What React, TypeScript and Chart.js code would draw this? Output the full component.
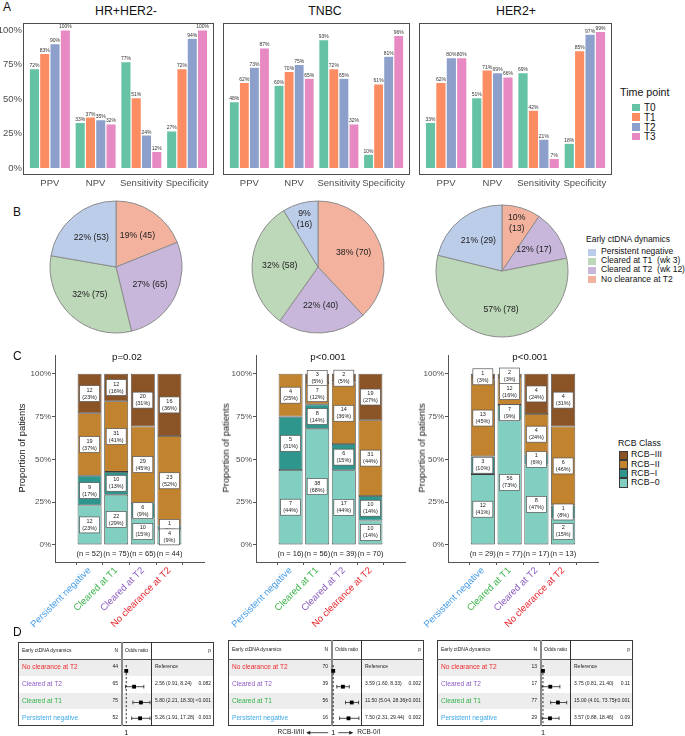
import React, { useEffect, useRef } from 'react';
import { Chart, registerables } from 'chart.js';

Chart.register(...registerables);
const FONT = '"Liberation Sans", Arial, Helvetica, sans-serif';
Chart.defaults.font.family = FONT;
Chart.defaults.color = '#4D4D4D';

// ---------------- Panel A data ----------------
const metrics = ['PPV', 'NPV', 'Sensitivity', 'Specificity'];
const timePoints = ['T0', 'T1', 'T2', 'T3'];
const timeColors = ['#66C2A5', '#FC8D62', '#8DA0CB', '#E78AC3'];
const subtypes = ['HR+HER2-', 'TNBC', 'HER2+'];
const hrT0 = [72, 33, 77, 27];
const hrT1 = [83, 37, 51, 72];
const hrT2 = [90, 35, 24, 94];
const hrT3 = [100, 32, 12, 100];
const tnT0 = [48, 60, 93, 10];
const tnT1 = [62, 70, 72, 61];
const tnT2 = [73, 75, 65, 81];
const tnT3 = [87, 65, 32, 96];
const h2T0 = [33, 51, 69, 18];
const h2T1 = [62, 71, 42, 85];
const h2T2 = [80, 69, 21, 97];
const h2T3 = [80, 66, 7, 99];

// ---------------- Panel B data ----------------
const pieLegend = ['Persistent negative', 'Cleared at T1  (wk 3)', 'Cleared at T2  (wk 12)', 'No clearance at T2'];
const pieLegendColors = ['#BCCDEA', '#BDD8B8', '#C9B7DB', '#F2B29D'];
// slice order clockwise from 12 o'clock: No clearance, Cleared T2, Cleared T1, Persistent negative
const pieColors = ['#F2B29D', '#C9B7DB', '#BDD8B8', '#BCCDEA'];
const hrPie = [45, 65, 75, 53];
const hrPiePct = [19, 27, 32, 22];
const tnPie = [70, 40, 58, 16];
const tnPiePct = [38, 22, 32, 9];
const h2Pie = [13, 17, 78, 29];
const h2PiePct = [10, 12, 57, 21];

// ---------------- Panel C data ----------------
const groups = ['Persistent negative', 'Cleared at T1', 'Cleared at T2', 'No clearance at T2'];
const groupColors = ['#4A9FE8', '#3CB44A', '#8B5CC0', '#E8282E'];
const rcbClasses = ['RCB\u22120', 'RCB\u2212I', 'RCB\u2212II', 'RCB\u2212III'];
const rcbColors = ['#80CFC1', '#2E968C', '#C1832D', '#8B5426'];
const hrRcb0 = [12, 22, 10, 4];
const hrRcb1 = [9, 10, 6, 1];
const hrRcb2 = [19, 31, 29, 23];
const hrRcb3 = [12, 12, 20, 16];
const tnRcb0 = [7, 38, 17, 10];
const tnRcb1 = [5, 8, 6, 10];
const tnRcb2 = [4, 7, 14, 31];
const tnRcb3 = [0, 3, 2, 19];
const h2Rcb0 = [12, 56, 8, 2];
const h2Rcb1 = [3, 7, 1, 1];
const h2Rcb2 = [13, 12, 4, 6];
const h2Rcb3 = [1, 2, 4, 4];
const pValues = ['p=0.02', 'p<0.001', 'p<0.001'];

// ---------------- Panel D data ----------------
const forestRows = ['No clearance at T2', 'Cleared at T2', 'Cleared at T1', 'Persistent negative'];
const forestColors = ['#EF2B2E', '#8E5BC6', '#33B24B', '#3FA9E6'];
const hrN = [44, 65, 75, 52];
const hrOR = [1, 2.56, 5.8, 5.26];
const hrLo = [null, 0.91, 2.21, 1.91];
const hrHi = [null, 8.24, 18.3, 17.28];
const hrP = ['', '0.082', '<0.001', '0.003'];
const tnN = [70, 39, 56, 16];
const tnOR = [1, 3.59, 11.5, 7.5];
const tnLo = [null, 1.6, 5.04, 2.31];
const tnHi = [null, 8.33, 28.36, 29.44];
const tnP = ['', '0.002', '<0.001', '0.002'];
const h2N = [13, 17, 77, 29];
const h2OR = [1, 3.75, 15.0, 3.57];
const h2Lo = [null, 0.81, 4.01, 0.88];
const h2Hi = [null, 21.4, 73.75, 18.46];
const h2P = ['', '0.11', '<0.001', '0.09'];

// ---------------- helpers ----------------
function roundHalfEven(v: number) {
  const f = Math.floor(v);
  if (Math.abs(v - f - 0.5) < 1e-9) return f % 2 === 0 ? f : f + 1;
  return Math.round(v);
}

function ChartCanvas({ left, top, width, height, make }: any) {
  const ref = useRef<HTMLCanvasElement>(null);
  useEffect(() => {
    const chart = new Chart(ref.current as HTMLCanvasElement, make());
    return () => chart.destroy();
  }, []);
  return (
    <canvas
      ref={ref}
      width={width}
      height={height}
      style={{ position: 'absolute', left, top, width, height, zIndex: 2 }}
    />
  );
}

function Txt({ x, y, children, size, color = '#1a1a1a', align = 'left', rotate = 0 }: any) {
  const tx = align === 'left' ? '0' : align === 'right' ? '-100%' : '-50%';
  return (
    <div
      style={{
        position: 'absolute',
        left: x,
        top: y,
        fontSize: size,
        color,
        whiteSpace: 'pre',
        lineHeight: 1.1,
        transform: `translate(${tx}, -50%)` + (rotate ? ` rotate(${rotate}deg)` : ''),
        zIndex: 3,
      }}
    >
      {children}
    </div>
  );
}

// ---------------- Panel A ----------------
const barLabelPlugin = {
  id: 'barLabels',
  afterDatasetsDraw(chart: any) {
    const ctx = chart.ctx;
    ctx.save();
    ctx.font = `5px ${FONT}`;
    ctx.fillStyle = '#333';
    ctx.textAlign = 'center';
    ctx.textBaseline = 'bottom';
    chart.data.datasets.forEach((ds: any, di: number) => {
      chart.getDatasetMeta(di).data.forEach((bar: any, i: number) => {
        ctx.fillText(ds.data[i] + '%', bar.x, bar.y - 0.3);
      });
    });
    ctx.restore();
  },
};

function makeBarA(vals: number[][], showY: boolean, yWidth: number) {
  return () => ({
    type: 'bar',
    data: {
      labels: metrics,
      datasets: timePoints.map((t, i) => ({
        label: t,
        data: vals[i],
        backgroundColor: timeColors[i],
        borderColor: '#ffffff',
        borderWidth: 0.6,
        categoryPercentage: 0.9,
        barPercentage: 1,
      })),
    },
    options: {
      animation: false,
      responsive: false,
      events: [],
      layout: { padding: { left: 0, right: 4, top: 3, bottom: 0 } },
      plugins: { legend: { display: false }, tooltip: { enabled: false } },
      scales: {
        x: {
          grid: { display: false, drawTicks: false },
          border: { display: false },
          ticks: { color: '#4D4D4D', font: { size: 9.5 }, padding: 3, maxRotation: 0, minRotation: 0, autoSkip: false },
          afterFit: (s: any) => { s.height = 20; s.paddingLeft = 0; s.paddingRight = 0; },
        },
        y: {
          min: -5,
          max: 105,
          grid: { display: false, drawTicks: false },
          border: { display: false },
          ticks: { display: showY, color: '#4D4D4D', font: { size: 9.5 }, padding: 5, callback: (v: any) => v + '%' },
          afterBuildTicks: (s: any) => { s.ticks = [0, 25, 50, 75, 100].map((v) => ({ value: v })); },
          afterFit: (s: any) => { s.width = yWidth; s.paddingTop = 0; s.paddingBottom = 0; },
        },
      },
    },
    plugins: [barLabelPlugin],
  });
}

// ---------------- Panel B ----------------
function makePie(data: number[], pct: number[]) {
  const total = data.reduce((a, b) => a + b, 0);
  const labelPlugin = {
    id: 'pieLabels',
    afterDatasetsDraw(chart: any) {
      const ctx = chart.ctx;
      ctx.save();
      ctx.font = `8.7px ${FONT}`;
      ctx.fillStyle = '#222';
      ctx.textAlign = 'center';
      ctx.textBaseline = 'middle';
      chart.getDatasetMeta(0).data.forEach((arc: any, i: number) => {
        const mid = (arc.startAngle + arc.endAngle) / 2;
        const share = data[i] / total;
        const small = share < 0.11;
        const r = arc.outerRadius * (small ? 0.76 : 0.58);
        const px = arc.x + Math.cos(mid) * r;
        const py = arc.y + Math.sin(mid) * r;
        if (small) {
          ctx.fillText(`${pct[i]}%`, px, py - 5.5);
          ctx.fillText(`(${data[i]})`, px, py + 5.5);
        } else {
          ctx.fillText(`${pct[i]}% (${data[i]})`, px, py);
        }
      });
      ctx.restore();
    },
  };
  return () => ({
    type: 'pie',
    data: {
      labels: ['No clearance at T2', 'Cleared at T2', 'Cleared at T1', 'Persistent negative'],
      datasets: [{ data, backgroundColor: pieColors, borderColor: '#8C8C8C', borderWidth: 1, radius: 66 }],
    },
    options: {
      animation: false,
      responsive: false,
      events: [],
      plugins: { legend: { display: false }, tooltip: { enabled: false } },
    },
    plugins: [labelPlugin],
  });
}

// ---------------- Panel C ----------------
function makeStack(counts: number[][], yWidth: number, xHeight: number) {
  const totals = groups.map((_, g) => counts.reduce((s, c) => s + c[g], 0));
  const labelPlugin = {
    id: 'stackLabels',
    afterDatasetsDraw(chart: any) {
      const ctx = chart.ctx;
      ctx.save();
      for (let k = counts.length - 1; k >= 0; k--) {
        const meta = chart.getDatasetMeta(k);
        counts[k].forEach((v, g) => {
          if (v === 0) return;
          const bar = meta.data[g];
          const cy = (bar.y + bar.base) / 2;
          const w = 20, h = 16;
          ctx.fillStyle = '#ffffff';
          ctx.strokeStyle = '#555';
          ctx.lineWidth = 0.7;
          ctx.fillRect(bar.x - w / 2, cy - h / 2, w, h);
          ctx.strokeRect(bar.x - w / 2, cy - h / 2, w, h);
          ctx.fillStyle = '#222';
          ctx.font = `5.5px ${FONT}`;
          ctx.textAlign = 'center';
          ctx.textBaseline = 'middle';
          ctx.fillText(String(v), bar.x, cy - 3.5);
          ctx.fillText(`(${roundHalfEven((v / totals[g]) * 100)}%)`, bar.x, cy + 3.5);
        });
      }
      const ys = chart.scales.y.getPixelForValue(-5);
      ctx.font = `7.5px ${FONT}`;
      ctx.fillStyle = '#222';
      ctx.textAlign = 'center';
      ctx.textBaseline = 'middle';
      totals.forEach((t, g) => {
        ctx.fillText(`(n = ${t})`, chart.scales.x.getPixelForValue(g), ys);
      });
      ctx.restore();
    },
  };
  return () => ({
    type: 'bar',
    data: {
      datasets: counts.map((c, k) => ({
        label: rcbClasses[k],
        data: c.map((v, g) => ({ x: g, y: (v / totals[g]) * 100 })),
        backgroundColor: rcbColors[k],
        borderColor: '#3A3A3A',
        borderWidth: 0.8,
        borderSkipped: false,
        categoryPercentage: 0.9,
        barPercentage: 1,
      })),
    },
    options: {
      animation: false,
      responsive: false,
      events: [],
      layout: { padding: { left: 0, right: 2, top: 5, bottom: 0 } },
      plugins: { legend: { display: false }, tooltip: { enabled: false } },
      scales: {
        x: {
          type: 'linear',
          min: -0.6,
          max: 3.6,
          stacked: true,
          grid: { display: true, drawOnChartArea: false, drawTicks: true, tickLength: 3, color: '#555' },
          border: { display: true, color: '#555', width: 1 },
          ticks: {
            autoSkip: false,
            minRotation: 45,
            maxRotation: 45,
            padding: 0,
            font: { size: 9.5 },
            color: (c: any) => groupColors[c.index] || '#333',
            callback: (v: any) => groups[v] ?? '',
          },
          afterBuildTicks: (s: any) => { s.ticks = [0, 1, 2, 3].map((v) => ({ value: v })); },
          afterFit: (s: any) => { s.height = xHeight; s.paddingLeft = 0; s.paddingRight = 0; },
        },
        y: {
          stacked: true,
          min: -10,
          max: 111,
          grid: { display: true, drawOnChartArea: false, drawTicks: true, tickLength: 3, color: '#555' },
          border: { display: true, color: '#555', width: 1 },
          ticks: { color: '#4D4D4D', font: { size: 8 }, padding: 1, callback: (v: any) => v + '%' },
          afterBuildTicks: (s: any) => { s.ticks = [0, 25, 50, 75, 100].map((v) => ({ value: v })); },
          afterFit: (s: any) => { s.width = yWidth; s.paddingTop = 0; s.paddingBottom = 0; },
        },
      },
    },
    plugins: [labelPlugin],
  });
}

// ---------------- Panel D ----------------
const ROW_TOP = 659;
const ROW_H = 16.8;

function makeForest(or: number[], lo: (number | null)[], hi: (number | null)[], xmin: number, xmax: number, arrows: boolean, padBottom: number) {
  const plugin = {
    id: 'forest',
    beforeDatasetsDraw(chart: any) {
      const { ctx, chartArea: a } = chart;
      const x = chart.scales.x, y = chart.scales.y;
      const x1 = x.getPixelForValue(1);
      ctx.save();
      ctx.strokeStyle = '#222';
      ctx.lineWidth = 0.9;
      ctx.setLineDash([2.2, 1.8]);
      ctx.beginPath();
      ctx.moveTo(x1, a.top + 2);
      ctx.lineTo(x1, a.bottom);
      ctx.stroke();
      ctx.setLineDash([]);
      ctx.lineWidth = 0.8;
      lo.forEach((l, i) => {
        if (l == null) return;
        const yy = y.getPixelForValue(i);
        const xl = Math.max(a.left + 1, x.getPixelForValue(l));
        const xr = Math.min(a.right - 1, x.getPixelForValue(hi[i] as number));
        ctx.beginPath();
        ctx.moveTo(xl, yy); ctx.lineTo(xr, yy);
        ctx.moveTo(xl, yy - 1.8); ctx.lineTo(xl, yy + 1.8);
        ctx.moveTo(xr, yy - 1.8); ctx.lineTo(xr, yy + 1.8);
        ctx.stroke();
      });
      ctx.restore();
    },
    afterDraw(chart: any) {
      const { ctx, chartArea: a } = chart;
      const x1 = chart.scales.x.getPixelForValue(1);
      const yy = a.bottom + 6.5;
      ctx.save();
      ctx.fillStyle = '#222';
      ctx.strokeStyle = '#222';
      ctx.font = `7.5px ${FONT}`;
      ctx.textAlign = 'center';
      ctx.textBaseline = 'middle';
      ctx.fillText('1', x1, yy);
      if (arrows) {
        ctx.font = `6.5px ${FONT}`;
        ctx.textAlign = 'right';
        ctx.fillText('RCB-II/III', x1 - 29, yy);
        ctx.textAlign = 'left';
        ctx.fillText('RCB-0/I', x1 + 24, yy);
        ctx.lineWidth = 0.8;
        ctx.beginPath();
        ctx.moveTo(x1 - 5, yy); ctx.lineTo(x1 - 26, yy);
        ctx.moveTo(x1 + 5, yy); ctx.lineTo(x1 + 19, yy);
        ctx.stroke();
        ctx.beginPath();
        ctx.moveTo(x1 - 27, yy); ctx.lineTo(x1 - 23, yy - 2); ctx.lineTo(x1 - 23, yy + 2); ctx.closePath();
        ctx.moveTo(x1 + 20, yy); ctx.lineTo(x1 + 16, yy - 2); ctx.lineTo(x1 + 16, yy + 2); ctx.closePath();
        ctx.fill();
      }
      ctx.restore();
    },
  };
  return () => ({
    type: 'scatter',
    data: {
      datasets: [{
        data: or.map((v, i) => ({ x: v, y: i })),
        pointStyle: 'rect',
        pointRadius: 2.7,
        backgroundColor: '#000',
        borderWidth: 0,
        clip: false,
      }],
    },
    options: {
      animation: false,
      responsive: false,
      events: [],
      layout: { padding: { left: 104, right: 63, top: 0, bottom: padBottom } },
      plugins: { legend: { display: false }, tooltip: { enabled: false } },
      scales: {
        x: { type: 'logarithmic', display: false, min: xmin, max: xmax },
        y: { type: 'linear', display: false, min: -0.5, max: 3.5, reverse: true },
      },
    },
    plugins: [plugin],
  });
}

function ForestTable({ L, top, n, or, lo, hi, p }: any) {
  const bottom = ROW_TOP + 4 * ROW_H;
  const headY = (top + ROW_TOP) / 2;
  const els: any[] = [];
  els.push(<div key="box" style={{ position: 'absolute', left: L, top, width: 196, height: bottom - top, border: '1px solid #3A3A3A', boxSizing: 'border-box', background: '#fff' }} />);
  forestRows.forEach((_, i) => {
    if (i % 2 === 0) {
      els.push(<div key={'bg' + i} style={{ position: 'absolute', left: L + 1, top: ROW_TOP + i * ROW_H, width: 194, height: ROW_H, background: '#EDEDED' }} />);
    }
  });
  els.push(<div key="hl" style={{ position: 'absolute', left: L, top: ROW_TOP, width: 196, height: 1, background: '#555' }} />);
  els.push(<div key="v1" style={{ position: 'absolute', left: L + 103, top, width: 2, height: bottom - top, background: '#8A8A8A' }} />);
  els.push(<div key="v2" style={{ position: 'absolute', left: L + 133, top, width: 1, height: bottom - top, background: '#333' }} />);
  els.push(<Txt key="h1" x={L + 4} y={headY} size={5}>Early ctDNA dynamics</Txt>);
  els.push(<Txt key="h2" x={L + 100} y={headY} size={5} align="right">N</Txt>);
  els.push(<Txt key="h3" x={L + 107} y={headY} size={5}>Odds ratio</Txt>);
  els.push(<Txt key="h4" x={L + 193} y={headY} size={5} align="right">p</Txt>);
  forestRows.forEach((name, i) => {
    const cy = ROW_TOP + (i + 0.5) * ROW_H;
    const est = lo[i] == null ? 'Reference' : `${or[i].toFixed(2)} (${lo[i].toFixed(2)}, ${hi[i].toFixed(2)})`;
    els.push(<Txt key={'n' + i} x={L + 4} y={cy} size={6.6} color={forestColors[i]}>{name}</Txt>);
    els.push(<Txt key={'c' + i} x={L + 100} y={cy} size={5} align="right">{String(n[i])}</Txt>);
    els.push(<Txt key={'e' + i} x={L + 137} y={cy} size={5}>{est}</Txt>);
    if (p[i]) els.push(<Txt key={'p' + i} x={L + 193} y={cy} size={5} align="right">{p[i]}</Txt>);
  });
  return <>{els}</>;
}

// ---------------- App ----------------
export default function App() {
  const aPanels = [
    { vals: [hrT0, hrT1, hrT2, hrT3], frameL: 23, frameR: 214, titleX: 126, showY: true },
    { vals: [tnT0, tnT1, tnT2, tnT3], frameL: 223, frameR: 410, titleX: 325, showY: false },
    { vals: [h2T0, h2T1, h2T2, h2T3], frameL: 419, frameR: 612, titleX: 516, showY: false },
  ];
  const bPanels = [
    { data: hrPie, pct: hrPiePct, cx: 115.5, cy: 267 },
    { data: tnPie, pct: tnPiePct, cx: 318, cy: 267 },
    { data: h2Pie, pct: h2PiePct, cx: 502, cy: 270.5 },
  ];
  const cPanels = [
    { counts: [hrRcb0, hrRcb1, hrRcb2, hrRcb3], axisX: 55, axisEnd: 204, titleX: 22, pX: 127 },
    { counts: [tnRcb0, tnRcb1, tnRcb2, tnRcb3], axisX: 256, axisEnd: 405, titleX: 226, pX: 328 },
    { counts: [h2Rcb0, h2Rcb1, h2Rcb2, h2Rcb3], axisX: 448, axisEnd: 598, titleX: 422, pX: 530 },
  ];
  const dPanels = [
    { L: 18, top: 642, n: hrN, or: hrOR, lo: hrLo, hi: hrHi, p: hrP, xmin: 0.63, xmax: 19.5, arrows: false },
    { L: 228, top: 640, n: tnN, or: tnOR, lo: tnLo, hi: tnHi, p: tnP, xmin: 0.85, xmax: 39, arrows: true },
    { L: 437, top: 640, n: h2N, or: h2OR, lo: h2Lo, hi: h2Hi, p: h2P, xmin: 0.7, xmax: 134, arrows: false },
  ];
  const cTop = 350, cHeight = 300, cAxisY = 562;
  const dHeight = 84;

  return (
    <div style={{ position: 'absolute', left: 0, top: 0, width: 685, height: 736, background: '#fff', fontFamily: FONT, overflow: 'hidden' }}>
      {/* Panel letters */}
      <Txt x={3} y={8} size={12} color="#111">A</Txt>
      <Txt x={13} y={213} size={12} color="#111">B</Txt>
      <Txt x={13} y={357} size={12} color="#111">C</Txt>
      <Txt x={13} y={633} size={12} color="#111">D</Txt>

      {/* Panel A */}
      {aPanels.map((pnl, i) => (
        <React.Fragment key={'a' + i}>
          <Txt x={pnl.titleX} y={11.5} size={12.3} color="#111" align="center">{subtypes[i]}</Txt>
          <div style={{ position: 'absolute', left: pnl.frameL, top: 23, width: pnl.frameR - pnl.frameL, height: 152, border: '1px solid #4D4D4D', boxSizing: 'border-box', zIndex: 1 }} />
          <ChartCanvas
            left={pnl.showY ? 0 : pnl.frameL}
            top={20}
            width={pnl.showY ? pnl.frameR : pnl.frameR - pnl.frameL}
            height={175}
            make={makeBarA(pnl.vals, pnl.showY, pnl.showY ? pnl.frameL + 4 : 4)}
          />
        </React.Fragment>
      ))}
      <Txt x={620} y={93} size={10.7} color="#111">Time point</Txt>
      {timePoints.map((t, i) => (
        <React.Fragment key={'tl' + i}>
          <div style={{ position: 'absolute', left: 631, top: 102.5 + i * 9.7, width: 10, height: 9.7, background: timeColors[i], border: '0.5px solid #fff', boxSizing: 'border-box' }} />
          <Txt x={644} y={107.3 + i * 9.7} size={10} color="#111">{t}</Txt>
        </React.Fragment>
      ))}

      {/* Panel B */}
      {bPanels.map((pnl, i) => (
        <ChartCanvas key={'b' + i} left={pnl.cx - 70} top={pnl.cy - 70} width={140} height={140} make={makePie(pnl.data, pnl.pct)} />
      ))}
      <Txt x={586} y={240} size={8.5} color="#111">Early ctDNA dynamics</Txt>
      {pieLegend.map((t, i) => (
        <React.Fragment key={'pl' + i}>
          <div style={{ position: 'absolute', left: 587, top: 247.5 + i * 9.2, width: 9.5, height: 9.2, background: pieLegendColors[i], border: '0.5px solid #fff', boxSizing: 'border-box' }} />
          <Txt x={601} y={252 + i * 9.2} size={8.5} color="#111">{t}</Txt>
        </React.Fragment>
      ))}

      {/* Panel C */}
      {cPanels.map((pnl, i) => {
        const left = pnl.axisX - 50;
        return (
          <React.Fragment key={'c' + i}>
            <Txt x={pnl.pX} y={357} size={9.7} color="#111" align="center">{pValues[i]}</Txt>
            <Txt x={pnl.titleX} y={448} size={9.4} color="#111" align="center" rotate={-90}>Proportion of patients</Txt>
            <ChartCanvas
              left={left}
              top={cTop}
              width={pnl.axisEnd - left + 2}
              height={cHeight}
              make={makeStack(pnl.counts, pnl.axisX - left, cTop + cHeight - cAxisY)}
            />
          </React.Fragment>
        );
      })}
      <Txt x={618} y={444} size={8.8} color="#111">RCB Class</Txt>
      {[3, 2, 1, 0].map((k, i) => (
        <React.Fragment key={'rl' + i}>
          <div style={{ position: 'absolute', left: 619, top: 450.5 + i * 9.3, width: 9.3, height: 9.3, background: rcbColors[k], border: '0.8px solid #3A3A3A', boxSizing: 'border-box' }} />
          <Txt x={631} y={455.2 + i * 9.3} size={8.8} color="#111">{rcbClasses[k]}</Txt>
        </React.Fragment>
      ))}

      {/* Panel D */}
      {dPanels.map((pnl, i) => (
        <React.Fragment key={'d' + i}>
          <ForestTable L={pnl.L} top={pnl.top} n={pnl.n} or={pnl.or} lo={pnl.lo} hi={pnl.hi} p={pnl.p} />
          <ChartCanvas
            left={pnl.L}
            top={ROW_TOP}
            width={196}
            height={dHeight}
            make={makeForest(pnl.or, pnl.lo, pnl.hi, pnl.xmin, pnl.xmax, pnl.arrows, dHeight - 4 * ROW_H)}
          />
        </React.Fragment>
      ))}
    </div>
  );
}
